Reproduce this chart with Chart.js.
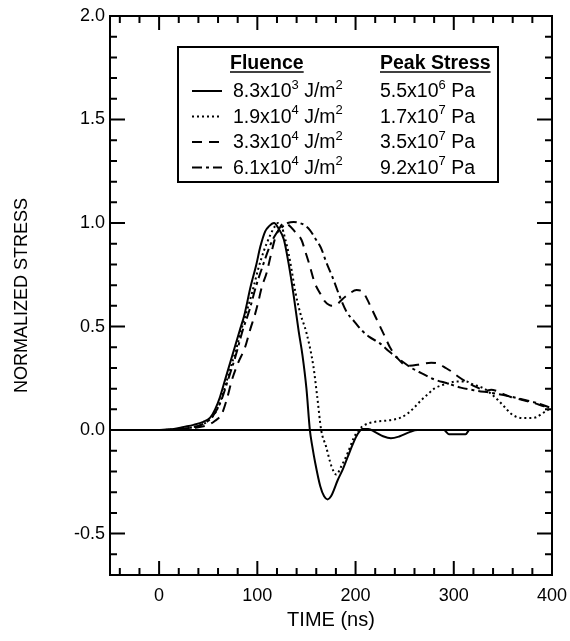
<!DOCTYPE html>
<html>
<head>
<meta charset="utf-8">
<script src="https://cdn.jsdelivr.net/npm/chart.js@4.4.0/dist/chart.umd.min.js"></script>
<style>
  html, body { margin: 0; padding: 0; background: #fff; }
</style>
</head>
<body>
<canvas id="stress" width="570" height="641"></canvas>
<script>
// time (ns) / normalized stress for each fluence
const solidTime = [-50, 0, 15, 25, 35, 45, 52, 57, 62, 67, 72, 77, 82, 87, 93, 99, 103, 108, 112, 117,
  122, 127, 132, 137, 142, 146, 150, 153.5, 156, 159, 164, 168, 171.5, 175, 182, 187, 192, 197, 202, 207,
  213, 220, 228, 236, 245, 255, 263, 290, 295, 312, 316, 400];
const solidStress = [0, 0, 0.005, 0.015, 0.025, 0.04, 0.06, 0.1, 0.16, 0.24, 0.32, 0.40, 0.48, 0.56, 0.69, 0.80, 0.885, 0.96, 0.985, 1.0,
  0.97, 0.92, 0.80, 0.65, 0.48, 0.36, 0.2, 0, -0.08, -0.16, -0.27, -0.32, -0.335, -0.32, -0.24, -0.19, -0.13, -0.07, -0.02, 0.005,
  0.005, -0.01, -0.03, -0.04, -0.03, -0.01, 0, 0, -0.02, -0.02, 0, 0];

const dottedTime = [-50, 0, 20, 30, 40, 50, 58, 64, 69, 74, 79, 84, 89, 95, 101, 107, 113, 118, 121, 125,
  128, 132, 135, 139, 144, 150, 157, 161, 165, 170, 175.5, 180.5, 185, 192, 198, 203, 209, 220, 230, 238,
  246, 253, 260, 267, 274, 280, 287, 294, 303, 312, 320, 331, 338, 345, 352, 358, 365, 372, 378, 384,
  390, 395, 400];
const dottedStress = [0, 0, 0.005, 0.01, 0.02, 0.045, 0.09, 0.16, 0.24, 0.32, 0.40, 0.49, 0.57, 0.67, 0.78, 0.87, 0.94, 0.985, 1.0, 0.98,
  0.93, 0.85, 0.77, 0.66, 0.56, 0.47, 0.31, 0.16, 0, -0.08, -0.175, -0.215, -0.18, -0.11, -0.04, 0, 0.024, 0.04, 0.045, 0.05,
  0.06, 0.08, 0.11, 0.145, 0.175, 0.2, 0.215, 0.225, 0.235, 0.235, 0.22, 0.2, 0.175, 0.145, 0.11, 0.08, 0.062, 0.058, 0.058, 0.062,
  0.08, 0.095, 0.11];

const dashedTime = [-50, 0, 20, 35, 50, 57, 64, 69, 74, 80, 87.5, 93, 97.7, 101, 104.5, 109.5, 114, 118, 122, 127,
  132, 138, 145, 149, 153, 158.5, 164, 169, 176, 182, 186, 194, 201, 207, 212, 216, 221, 226, 230, 235,
  244, 253, 263, 270, 277, 285, 290, 297, 304, 312, 322, 333, 338, 343, 350, 358, 370, 382, 392, 400];
const dashedStress = [0, 0, 0.005, 0.01, 0.025, 0.045, 0.08, 0.15, 0.24, 0.32, 0.40, 0.49, 0.56, 0.62, 0.69, 0.76, 0.85, 0.925, 0.97, 1.0,
  0.99, 0.96, 0.918, 0.86, 0.80, 0.71, 0.66, 0.62, 0.60, 0.61, 0.63, 0.66, 0.676, 0.67, 0.63, 0.59, 0.54, 0.49, 0.45, 0.40,
  0.34, 0.31, 0.315, 0.322, 0.325, 0.32, 0.305, 0.285, 0.26, 0.235, 0.21, 0.19, 0.195, 0.19, 0.175, 0.16, 0.145, 0.13, 0.115, 0.105];

const dashDotTime = [-50, 0, 15, 30, 45, 55, 63, 70, 78, 85, 92, 99, 106, 112, 118, 125, 131, 137, 143, 148,
  153.5, 159, 165, 170, 177, 184, 191, 199, 206, 214, 224.5, 234.6, 248, 257, 267, 280, 294, 307, 324, 338,
  355, 368, 385, 400];
const dashDotStress = [0, 0, 0.003, 0.01, 0.03, 0.07, 0.14, 0.24, 0.36, 0.48, 0.58, 0.70, 0.80, 0.88, 0.94, 0.98, 1.0, 1.005, 1.0, 0.99,
  0.966, 0.925, 0.878, 0.813, 0.733, 0.644, 0.57, 0.523, 0.483, 0.45, 0.42, 0.378, 0.33, 0.30, 0.275, 0.245, 0.225, 0.205, 0.19, 0.18,
  0.165, 0.15, 0.13, 0.105];

// legend table text
const fluenceLabels = ['8.3x10^3 J/m^2', '1.9x10^4 J/m^2', '3.3x10^4 J/m^2', '6.1x10^4 J/m^2'];
const peakStressLabels = ['5.5x10^6 Pa', '1.7x10^7 Pa', '3.5x10^7 Pa', '9.2x10^7 Pa'];

// axis ticks
const xMajorTicks = [0, 100, 200, 300, 400];
const xMinorTicks = [-40, -20, 20, 40, 60, 80, 120, 140, 160, 180, 220, 240, 260, 280, 320, 340, 360, 380];
const yMajorTicks = [-0.5, 0, 0.5, 1.0, 1.5, 2.0];
const yMinorTicks = [-0.6, -0.4, -0.3, -0.2, -0.1, 0.1, 0.2, 0.3, 0.4, 0.6, 0.7, 0.8, 0.9, 1.1, 1.2, 1.3, 1.4, 1.6, 1.7, 1.8, 1.9];

const FONT = 'Arial, "Liberation Sans", Helvetica, sans-serif';

function toPoints(time, stress) {
  return time.map((t, i) => ({ x: t, y: stress[i] }));
}

function makeSet(label, time, stress, dash) {
  return {
    label: label,
    data: toPoints(time, stress),
    borderColor: '#000',
    borderWidth: 2,
    borderDash: dash,
    pointRadius: 0,
    fill: false,
    cubicInterpolationMode: 'monotone',
  };
}

// text with ^n superscripts
function drawRich(ctx, str, x, y, size, bold) {
  const parts = str.split(/\^(\d)/);
  parts.forEach((p, i) => {
    const sup = i % 2 === 1;
    ctx.font = (bold ? 'bold ' : '') + (sup ? Math.round(size * 0.65) : size) + 'px ' + FONT;
    ctx.fillText(p, x, sup ? y - size * 0.42 : y);
    x += ctx.measureText(p).width;
  });
  return x;
}

const framePlugin = {
  id: 'frame',
  beforeDatasetsDraw(chart) {
    const ctx = chart.ctx;
    const ca = chart.chartArea;
    const y0 = chart.scales.y.getPixelForValue(0);
    ctx.save();
    ctx.strokeStyle = '#000';
    ctx.lineWidth = 2;
    ctx.beginPath();
    ctx.moveTo(ca.left, y0);
    ctx.lineTo(ca.right, y0);
    ctx.stroke();
    ctx.restore();
  },
  afterDatasetsDraw(chart) {
    const ctx = chart.ctx;
    const ca = chart.chartArea;
    const xs = chart.scales.x;
    const ys = chart.scales.y;
    ctx.save();
    ctx.strokeStyle = '#000';
    ctx.lineWidth = 2;
    ctx.setLineDash([]);
    ctx.strokeRect(ca.left, ca.top, ca.right - ca.left, ca.bottom - ca.top);

    // inward ticks on all four sides
    const xTick = (v, len) => {
      const px = xs.getPixelForValue(v);
      ctx.moveTo(px, ca.bottom); ctx.lineTo(px, ca.bottom - len);
      ctx.moveTo(px, ca.top); ctx.lineTo(px, ca.top + len);
    };
    const yTick = (v, len) => {
      const py = ys.getPixelForValue(v);
      ctx.moveTo(ca.left, py); ctx.lineTo(ca.left + len, py);
      ctx.moveTo(ca.right, py); ctx.lineTo(ca.right - len, py);
    };
    ctx.beginPath();
    xMajorTicks.forEach(v => xTick(v, 14));
    xMinorTicks.forEach(v => xTick(v, 7));
    yMajorTicks.forEach(v => yTick(v, 15));
    yMinorTicks.forEach(v => yTick(v, 7));
    ctx.stroke();

    // legend table
    const bx = ca.left + 68, by = ca.top + 31, bw = 320, bh = 135;
    ctx.fillStyle = '#fff';
    ctx.fillRect(bx, by, bw, bh);
    ctx.lineWidth = 2;
    ctx.strokeRect(bx, by, bw, bh);

    ctx.fillStyle = '#000';
    ctx.textBaseline = 'alphabetic';
    const col1 = bx + 55, col2 = bx + 202;
    const headY = by + 22;
    [['Fluence', bx + 52], ['Peak Stress', col2]].forEach(([txt, hx]) => {
      const end = drawRich(ctx, txt, hx, headY, 19.5, true);
      ctx.lineWidth = 1.5;
      ctx.beginPath();
      ctx.moveTo(hx, headY + 3);
      ctx.lineTo(end, headY + 3);
      ctx.stroke();
    });

    chart.data.datasets.forEach((ds, i) => {
      const rowY = by + 50 + i * 25.5;
      ctx.lineWidth = ds.borderWidth;
      ctx.setLineDash(ds.borderDash || []);
      ctx.beginPath();
      ctx.moveTo(bx + 14, rowY - 6);
      ctx.lineTo(bx + 44, rowY - 6);
      ctx.stroke();
      ctx.setLineDash([]);
      drawRich(ctx, fluenceLabels[i], col1, rowY, 19.5, false);
      drawRich(ctx, peakStressLabels[i], col2, rowY, 19.5, false);
    });
    ctx.restore();
  }
};

new Chart(document.getElementById('stress'), {
  type: 'line',
  data: {
    datasets: [
      makeSet(fluenceLabels[0], solidTime, solidStress, []),
      makeSet(fluenceLabels[1], dottedTime, dottedStress, [2, 3]),
      makeSet(fluenceLabels[2], dashedTime, dashedStress, [10, 7]),
      makeSet(fluenceLabels[3], dashDotTime, dashDotStress, [10, 4, 3, 4]),
    ]
  },
  options: {
    responsive: false,
    animation: false,
    layout: { padding: { top: 16, right: 18, left: 0, bottom: 0 } },
    plugins: {
      legend: { display: false },
      tooltip: { enabled: false },
    },
    scales: {
      x: {
        type: 'linear',
        min: -50,
        max: 400,
        afterBuildTicks: (scale) => { scale.ticks = xMajorTicks.map(v => ({ value: v })); },
        afterFit: (scale) => {
          scale.height = 66;
          scale.paddingLeft = 0;
          scale.paddingRight = 0;
        },
        grid: { display: false, drawTicks: false },
        border: { display: false },
        ticks: { color: '#000', padding: 10, maxRotation: 0, font: { family: FONT, size: 18 } },
        title: {
          display: true,
          text: 'TIME (ns)',
          color: '#000',
          font: { family: FONT, size: 20 },
          padding: { top: 0, bottom: 9 },
        },
      },
      y: {
        type: 'linear',
        min: -0.7,
        max: 2.0,
        afterBuildTicks: (scale) => { scale.ticks = yMajorTicks.map(v => ({ value: v })); },
        afterFit: (scale) => { scale.width = 110; },
        grid: { display: false, drawTicks: false },
        border: { display: false },
        ticks: {
          color: '#000',
          padding: 5,
          font: { family: FONT, size: 18 },
          callback: (v) => Number(v).toFixed(1),
        },
        title: {
          display: true,
          text: 'NORMALIZED STRESS',
          color: '#000',
          font: { family: FONT, size: 18 },
          padding: { top: 11, bottom: 0 },
        },
      },
    },
  },
  plugins: [framePlugin],
});
</script>
</body>
</html>
